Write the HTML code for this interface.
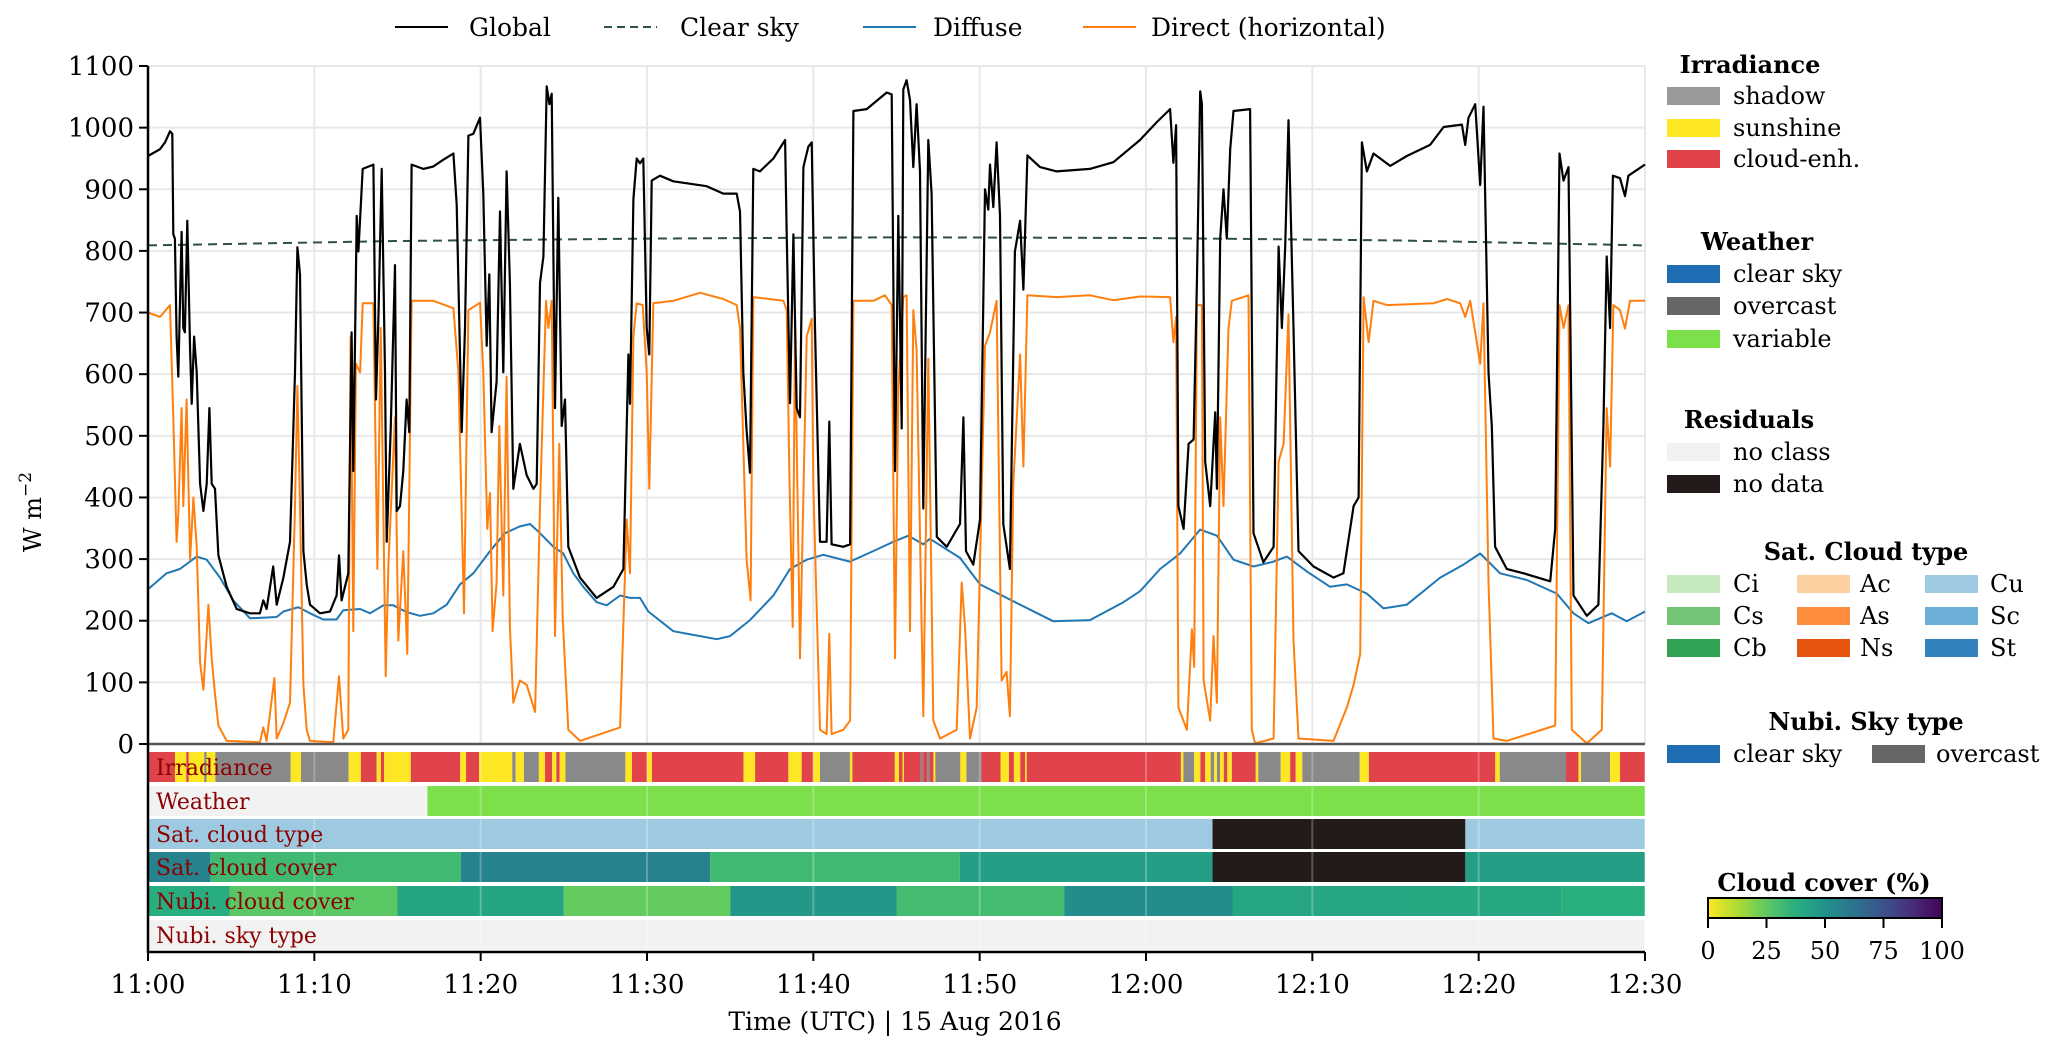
<!DOCTYPE html>
<html><head><meta charset="utf-8"><style>
html,body{margin:0;padding:0;background:#fff;}
svg{display:block;}
.cond{font-family:"DejaVu Serif","Liberation Serif",serif;}
.ser{font-family:"DejaVu Serif","Liberation Serif",serif;}
</style></head><body>
<svg id="chart" width="2067" height="1054" viewBox="0 0 2067 1054" xmlns="http://www.w3.org/2000/svg"></svg>
<script>
// ---------- data ----------
const globalT=[0,.72,1.02,1.32,1.46,1.52,1.62,1.72,1.82,2.02,2.12,2.22,2.36,2.53,2.63,2.77,2.93,3.13,3.33,3.53,3.69,3.83,4.03,4.23,4.73,5.33,6.13,6.73,6.93,7.13,7.53,7.74,8.14,8.54,8.84,8.98,9.14,9.34,9.54,9.74,10.34,10.94,11.34,11.48,11.64,12.04,12.24,12.34,12.55,12.65,12.91,13.55,13.71,13.85,14.05,14.25,14.35,14.59,14.85,14.95,15.15,15.35,15.55,15.71,15.85,16.55,17.15,17.76,18.36,18.56,18.86,19.06,19.26,19.56,19.96,20.16,20.36,20.52,20.66,20.96,21.16,21.36,21.56,21.76,21.96,22.36,22.77,23.17,23.37,23.57,23.77,23.97,24.13,24.27,24.47,24.67,24.87,25.07,25.27,25.97,26.97,27.98,28.58,28.88,28.98,29.18,29.38,29.58,29.78,29.98,30.14,30.28,30.78,31.58,33.59,34.59,35.39,35.59,35.79,35.99,36.19,36.39,36.79,37.6,38.3,38.4,38.6,38.8,39.0,39.2,39.4,39.7,39.9,40.1,40.4,40.8,40.96,41.1,41.8,42.21,42.41,43.21,44.41,44.71,44.91,45.11,45.31,45.41,45.61,45.81,46.01,46.21,46.41,46.61,46.91,47.11,47.42,48.02,48.82,49.02,49.18,49.62,50.02,50.32,50.52,50.62,50.82,51.02,51.22,51.42,51.82,52.12,52.43,52.63,52.87,53.63,54.63,56.63,58.04,59.64,60.65,61.45,61.65,61.81,61.95,62.26,62.56,62.86,63.06,63.26,63.36,63.56,63.86,64.16,64.26,64.46,64.66,64.86,65.06,65.26,66.26,66.46,67.06,67.67,67.97,68.17,68.37,68.57,68.87,69.17,70.07,71.27,71.87,72.48,72.78,72.98,73.28,73.68,74.68,75.68,77.08,77.89,78.99,79.19,79.39,79.79,80.09,80.29,80.59,80.79,80.99,81.69,82.7,84.3,84.6,84.86,85.1,85.4,85.7,86.5,87.2,87.5,87.7,87.9,88.07,88.5,88.8,89.0,90];
const globalV=[954,965,976,994,990,827,820,661,596,831,675,668,849,639,552,661,603,422,378,422,545,422,414,306,255,219,212,212,233,219,288,226,270,328,603,806,762,313,259,226,212,215,241,306,233,277,668,443,857,799,933,940,559,690,933,603,328,510,777,378,386,443,559,506,940,933,937,948,958,875,506,675,987,990,1016,893,646,762,506,588,864,603,929,748,414,487,436,414,422,748,791,1067,1038,1055,545,886,516,559,320,270,237,255,284,632,552,884,950,942,950,675,632,914,922,913,905,893,893,864,603,509,440,933,929,950,980,827,553,827,545,530,936,969,976,675,328,328,523,324,320,324,1027,1030,1057,1054,443,857,512,1062,1077,1045,936,1038,929,382,980,893,336,320,357,530,313,291,364,900,867,940,871,976,857,357,284,799,849,737,955,936,929,933,944,980,1009,1030,943,1004,386,349,487,494,748,1059,1038,458,386,538,414,820,900,820,965,1027,1030,342,295,320,807,675,807,1012,675,313,288,270,277,386,400,976,929,958,938,954,972,1001,1005,972,1016,1038,907,1034,603,516,320,284,277,264,349,958,914,936,241,208,226,516,791,675,922,918,889,922,940];
const directT=[0,.72,1.32,1.52,1.72,1.82,2.02,2.12,2.32,2.53,2.73,2.93,3.13,3.33,3.63,3.83,4.03,4.23,4.73,6.73,6.93,7.13,7.6,7.74,8.14,8.54,8.84,8.98,9.14,9.34,9.54,9.74,11.14,11.48,11.74,12.04,12.18,12.34,12.5,12.75,12.91,13.55,13.79,13.99,14.29,14.45,14.85,15.05,15.35,15.59,15.85,17.15,18.36,18.66,19.0,19.26,19.96,20.16,20.4,20.56,20.72,20.96,21.12,21.36,21.56,21.76,21.96,22.36,22.77,23.27,23.57,23.93,24.07,24.27,24.47,24.73,24.93,25.27,25.97,28.38,28.78,28.98,29.18,29.38,29.74,29.98,30.14,30.38,31.58,33.19,34.59,35.39,35.59,35.99,36.23,36.39,38.2,38.4,38.56,38.76,38.9,39.2,39.6,39.9,40.0,40.4,40.8,40.96,41.1,41.8,42.21,42.41,43.61,44.31,44.71,44.91,45.11,45.41,45.61,45.81,46.01,46.21,46.61,46.91,47.21,47.62,48.62,48.92,49.12,49.42,49.82,50.32,50.62,51.02,51.32,51.62,51.82,52.02,52.43,52.63,52.87,54.63,56.63,58.04,59.64,61.45,61.65,61.81,61.95,62.46,62.76,62.9,63.06,63.36,63.46,63.86,64.06,64.26,64.46,64.66,64.96,65.16,66.16,66.36,66.56,67.67,67.97,68.27,68.57,68.87,69.17,71.27,72.07,72.48,72.88,73.08,73.38,73.68,74.48,77.29,78.09,78.89,79.19,79.49,80.09,80.29,80.59,80.89,81.69,84.6,84.86,85.1,85.4,85.6,86.5,87.4,87.7,87.9,88.1,88.5,88.8,89.1,90];
const directV=[700,693,712,530,328,372,545,386,559,299,400,320,132,88,226,139,81,30,5,3,27,5,107,9,34,67,386,581,386,96,23,5,3,110,9,23,661,183,617,603,715,715,284,675,110,291,530,168,313,146,719,719,707,603,212,704,716,603,349,407,183,262,516,241,596,190,67,103,96,52,386,719,675,719,175,487,204,23,5,27,364,277,661,715,712,603,414,715,719,732,722,712,675,299,233,725,719,704,436,190,675,139,661,690,422,23,16,179,16,23,38,719,719,728,712,139,574,725,728,183,704,639,45,625,38,9,23,262,190,9,59,646,668,719,103,117,45,422,632,450,728,725,728,720,726,725,652,693,59,23,186,125,712,712,103,38,175,67,530,386,675,719,728,23,1,9,458,487,697,168,9,5,59,96,146,725,652,719,712,715,722,715,693,719,617,715,262,9,5,30,712,675,712,23,1,23,545,450,712,704,674,719,719];
const diffuseT=[0,1.12,1.92,2.93,3.53,4.33,5.13,6.13,7.74,8.14,9.04,9.74,10.54,11.34,11.74,12.75,13.35,14.15,14.75,15.55,16.35,17.15,17.96,18.76,19.56,20.56,21.46,22.36,22.97,23.57,24.37,24.97,25.57,26.17,26.97,27.58,28.38,28.98,29.58,30.08,31.58,34.19,34.99,36.19,37.6,38.6,39.6,40.6,42.2,43.6,44.81,45.71,46.61,47.01,48.82,50.02,51.62,54.43,56.63,58.64,59.65,60.85,62.05,63.26,64.26,65.26,66.46,67.67,68.47,69.67,71.07,72.07,73.28,74.28,75.68,77.69,79.09,80.09,81.29,82.9,84.7,85.7,86.6,88.0,88.9,90];
const diffuseV=[251,277,284,304,299,270,233,204,206,215,222,212,202,202,217,219,212,225,225,214,208,212,226,259,277,313,342,353,357,342,320,309,277,255,230,225,241,237,237,215,183,170,175,201,241,284,299,307,296,313,328,338,324,333,302,259,237,199,201,230,248,284,309,348,338,299,288,296,304,280,255,259,244,220,226,270,291,309,277,266,244,212,196,212,199,215];
const clearT=[0,15,30,45,60,75,90];
const clearV=[809,816,820,822,821,817,809];
const yTicks=[0,100,200,300,400,500,600,700,800,900,1000,1100];
const xTickLabels=["11:00","11:10","11:20","11:30","11:40","11:50","12:00","12:10","12:20","12:30"];
const irrStart=[0,1.63,2.3,2.45,3.38,3.52,4.05,8.57,9.2,12.06,12.8,13.75,14.0,14.2,15.8,18.77,19.12,19.9,21.9,22.1,22.6,23.5,23.87,24.3,24.55,24.75,25.1,28.7,29.1,30.0,30.3,35.8,36.5,38.5,39.3,40.0,40.4,42.2,42.35,44.9,45.15,45.37,45.45,46.45,46.6,46.84,46.99,47.22,47.34,48.84,49.2,50.1,51.26,51.76,52.06,52.44,52.74,52.83,62.1,62.25,62.9,63.27,63.56,63.89,64.1,64.27,64.45,64.68,64.89,65.16,66.6,66.75,68.1,68.67,69.0,69.4,72.85,73.4,81.0,81.27,85.25,86.0,86.15,87.9,88.5];
const irrClass=["C","Y","C","Y","S","Y","S","Y","S","Y","C","Y","C","Y","C","Y","C","Y","S","Y","S","Y","C","Y","C","Y","S","Y","C","Y","C","Y","C","Y","C","Y","S","Y","C","Y","C","Y","C","S","C","S","C","Y","S","Y","S","C","Y","C","Y","C","Y","C","Y","S","Y","C","Y","S","Y","S","Y","C","Y","C","Y","S","Y","C","Y","S","Y","C","Y","S","C","Y","S","Y","C"];
const weatherStart=[0,16.8];
const weatherClass=["none","variable"];
const satTypeStart=[0,64.0,79.2];
const satTypeClass=["Cu","nodata","Cu"];
const satCoverStart=[0,3.75,18.8,33.8,48.8,64.0,79.2];
const satCoverVal=[56,32,56,32,44,null,44];
const nubiCoverStart=[0,4.9,15.0,25.0,35.0,45.0,55.1,65.2,75.3,85.0];
const nubiCoverVal=[38,26,42,24,47,31,52,41,40,37];
const cbTicks=[0,25,50,75,100];

// ---------- layout ----------
const svg=document.getElementById('chart');
const NS='http://www.w3.org/2000/svg';
const L=148,R=1645,Y0=744,Y1100=66,T0=0,T1=90;
const xs=t=>L+(t-T0)/(T1-T0)*(R-L);
const ys=v=>Y0-v/1100*(Y0-Y1100);
function el(tag,attrs,parent){const e=document.createElementNS(NS,tag);for(const k in attrs)e.setAttribute(k,attrs[k]);(parent||svg).appendChild(e);return e;}
function txt(s,attrs,parent){const e=el('text',attrs,parent);e.textContent=s;return e;}
const viridisStops=['#440154','#472d7b','#3b528b','#2c728e','#21918c','#28ae80','#5ec962','#addc30','#fde725'];
function hex2rgb(h){return [1,3,5].map(i=>parseInt(h.substr(i,2),16));}
function viridis(f){f=Math.max(0,Math.min(1,f));const p=f*8,i=Math.min(7,Math.floor(p)),u=p-i;const a=hex2rgb(viridisStops[i]),b=hex2rgb(viridisStops[i+1]);return 'rgb('+a.map((c,k)=>Math.round(c+(b[k]-c)*u)).join(',')+')';}
const coverColor=c=>c===null?'#231a1a':viridis(1-c/100);

const grid=el('g',{});


yTicks.forEach(v=>{el('line',{x1:L,x2:R,y1:ys(v),y2:ys(v),stroke:'#e8e8e8','stroke-width':2},grid);});
xTickLabels.forEach((s,i)=>{const x=xs(i*10);el('line',{x1:x,x2:x,y1:Y1100,y2:Y0,stroke:'#e8e8e8','stroke-width':2},grid);});

const stripTop=[752,786,819,852,886,920];
const stripH=30;
const stripNames=["Irradiance","Weather","Sat. cloud type","Sat. cloud cover","Nubi. cloud cover","Nubi. sky type"];
const irrCol={S:'#898989',Y:'#fde725',C:'#e0434a'};
const weatherCol={none:'#f2f2f2',variable:'#7be04a'};
const satTypeCol={Cu:'#9ecae1',nodata:'#231a1a'};
function drawStrip(idx,starts,colorFn,name){
  const g=el('g',{});
  
  
  for(let i=0;i<starts.length;i++){
    const a=starts[i],b=i+1<starts.length?starts[i+1]:T1;
    const r=el('rect',{x:xs(a),y:stripTop[idx],width:Math.max(0.5,xs(b)-xs(a)),height:stripH,fill:colorFn(i)},g);
    
    
  }
}
drawStrip(0,irrStart,i=>irrCol[irrClass[i]],'irradiance-strip');
drawStrip(1,weatherStart,i=>weatherCol[weatherClass[i]],'weather-strip');
drawStrip(2,satTypeStart,i=>satTypeCol[satTypeClass[i]],'sat-cloud-type-strip');
drawStrip(3,satCoverStart,i=>coverColor(satCoverVal[i]),'sat-cloud-cover-strip');
drawStrip(4,nubiCoverStart,i=>coverColor(nubiCoverVal[i]),'nubi-cloud-cover-strip');
drawStrip(5,[0],i=>'#f2f2f2','nubi-sky-type-strip');
xTickLabels.forEach((s,i)=>{const x=xs(i*10);el('line',{x1:x,x2:x,y1:748,y2:952,stroke:'#ffffff','stroke-opacity':0.25,'stroke-width':2});});
stripNames.forEach((s,i)=>{const t=txt(s,{x:156,y:stripTop[i]+23,'font-size':22,fill:'#8b0000',class:'cond'});

});

function line(T,V,attrs,name){let d='';T.forEach((t,i)=>{d+=(i?'L':'M')+xs(t).toFixed(1)+','+ys(V[i]).toFixed(1);});const p=el('path',Object.assign({d:d,fill:'none','stroke-linejoin':'round'},attrs));

}
line(clearT,clearV,{stroke:'#2f4f4f','stroke-width':2,'stroke-dasharray':'9,6'},'clear-sky-line');
line(diffuseT,diffuseV,{stroke:'#1f77b4','stroke-width':2},'diffuse-line');
line(directT,directV,{stroke:'#ff7f0e','stroke-width':2},'direct-line');
line(globalT,globalV,{stroke:'#000','stroke-width':2.2},'global-line');

const ax=el('g',{});


el('line',{x1:L,x2:R,y1:Y0,y2:Y0,stroke:'#555','stroke-width':2.5},ax);
el('line',{x1:L,x2:L,y1:Y1100,y2:953,stroke:'#000','stroke-width':2.5},ax);
el('line',{x1:L,x2:R,y1:952,y2:952,stroke:'#000','stroke-width':2.5},ax);
yTicks.forEach(v=>{el('line',{x1:L-9,x2:L,y1:ys(v),y2:ys(v),stroke:'#000','stroke-width':2},ax);
const t=txt(String(v),{x:L-14,y:ys(v)+9,'font-size':26,'text-anchor':'end',class:'cond'},ax);

});
xTickLabels.forEach((s,i)=>{const x=xs(i*10);el('line',{x1:x,x2:x,y1:952,y2:961,stroke:'#000','stroke-width':2},ax);
const t=txt(s,{x:x,y:993,'font-size':26,'text-anchor':'middle',class:'cond'},ax);

});
const xl=txt('Time (UTC) | 15 Aug 2016',{x:895,y:1030,'font-size':25,'text-anchor':'middle',class:'cond'});


const yl=el('text',{x:0,y:0,transform:'translate(41,512) rotate(-90)','font-size':24,'text-anchor':'middle',class:'cond'});


yl.appendChild(document.createTextNode('W m'));
const sup=el('tspan',{dy:-10,'font-size':17},yl);sup.textContent='\u22122';

const topLeg=[['Global',395,469,{stroke:'#000'}],['Clear sky',604,680,{stroke:'#2f4f4f','stroke-dasharray':'8,5'}],['Diffuse',863,933,{stroke:'#1f77b4'}],['Direct (horizontal)',1083,1151,{stroke:'#ff7f0e'}]];
topLeg.forEach(e=>{const g=el('g',{});


el('line',Object.assign({x1:e[1],x2:e[1]+53,y1:27,y2:27,'stroke-width':2},e[3]),g);
txt(e[0],{x:e[2],y:36,'font-size':25,class:'cond'},g);});

function legTitle(s,cx,y){const t=txt(s,{x:cx,y:y,'font-size':24,'font-weight':'bold','text-anchor':'middle',class:'ser'});

}
function legItem(s,col,px,tx,y){const g=el('g',{});


el('rect',{x:px,y:y-9,width:53,height:18,fill:col},g);
txt(s,{x:tx,y:y+8,'font-size':24,class:'ser'},g);}
legTitle('Irradiance',1750,73);
legItem('shadow','#999999',1667,1733,96);legItem('sunshine','#fde725',1667,1733,128);legItem('cloud-enh.','#e0434a',1667,1733,159);
legTitle('Weather',1757,250);
legItem('clear sky','#1f6eb4',1667,1733,274);legItem('overcast','#666666',1667,1733,306);legItem('variable','#7be04a',1667,1733,339);
legTitle('Residuals',1749,428);
legItem('no class','#f2f2f2',1667,1733,452);legItem('no data','#231a1a',1667,1733,484);
legTitle('Sat. Cloud type',1866,560);
[['Ci','#c7e9c0'],['Cs','#74c476'],['Cb','#31a354']].forEach((e,i)=>legItem(e[0],e[1],1667,1733,584+i*32));
[['Ac','#fdd0a2'],['As','#fd8d3c'],['Ns','#e6550d']].forEach((e,i)=>legItem(e[0],e[1],1797,1860,584+i*32));
[['Cu','#9ecae1'],['Sc','#6baed6'],['St','#3182bd']].forEach((e,i)=>legItem(e[0],e[1],1925,1990,584+i*32));
legTitle('Nubi. Sky type',1866,730);
legItem('clear sky','#1f6eb4',1667,1733,754);legItem('overcast','#666666',1872,1936,754);

const cb=el('g',{});


const defs=el('defs',{});const lg=el('linearGradient',{id:'vir',x1:0,x2:1,y1:0,y2:0},defs);
for(let i=0;i<=20;i++)el('stop',{offset:i/20,'stop-color':viridis(1-i/20)},lg);
txt('Cloud cover (%)',{x:1824,y:891,'font-size':24,'font-weight':'bold','text-anchor':'middle',class:'ser'},cb);
const cbL=1708,cbR=1942;
el('rect',{x:cbL,y:898,width:cbR-cbL,height:20,fill:'url(#vir)',stroke:'#000','stroke-width':2},cb);
cbTicks.forEach(v=>{const x=cbL+v/100*(cbR-cbL);el('line',{x1:x,x2:x,y1:918,y2:928,stroke:'#000','stroke-width':2},cb);
const t=txt(String(v),{x:x,y:959,'font-size':24,'text-anchor':'middle',class:'ser'},cb);

});
</script>
</body></html>
